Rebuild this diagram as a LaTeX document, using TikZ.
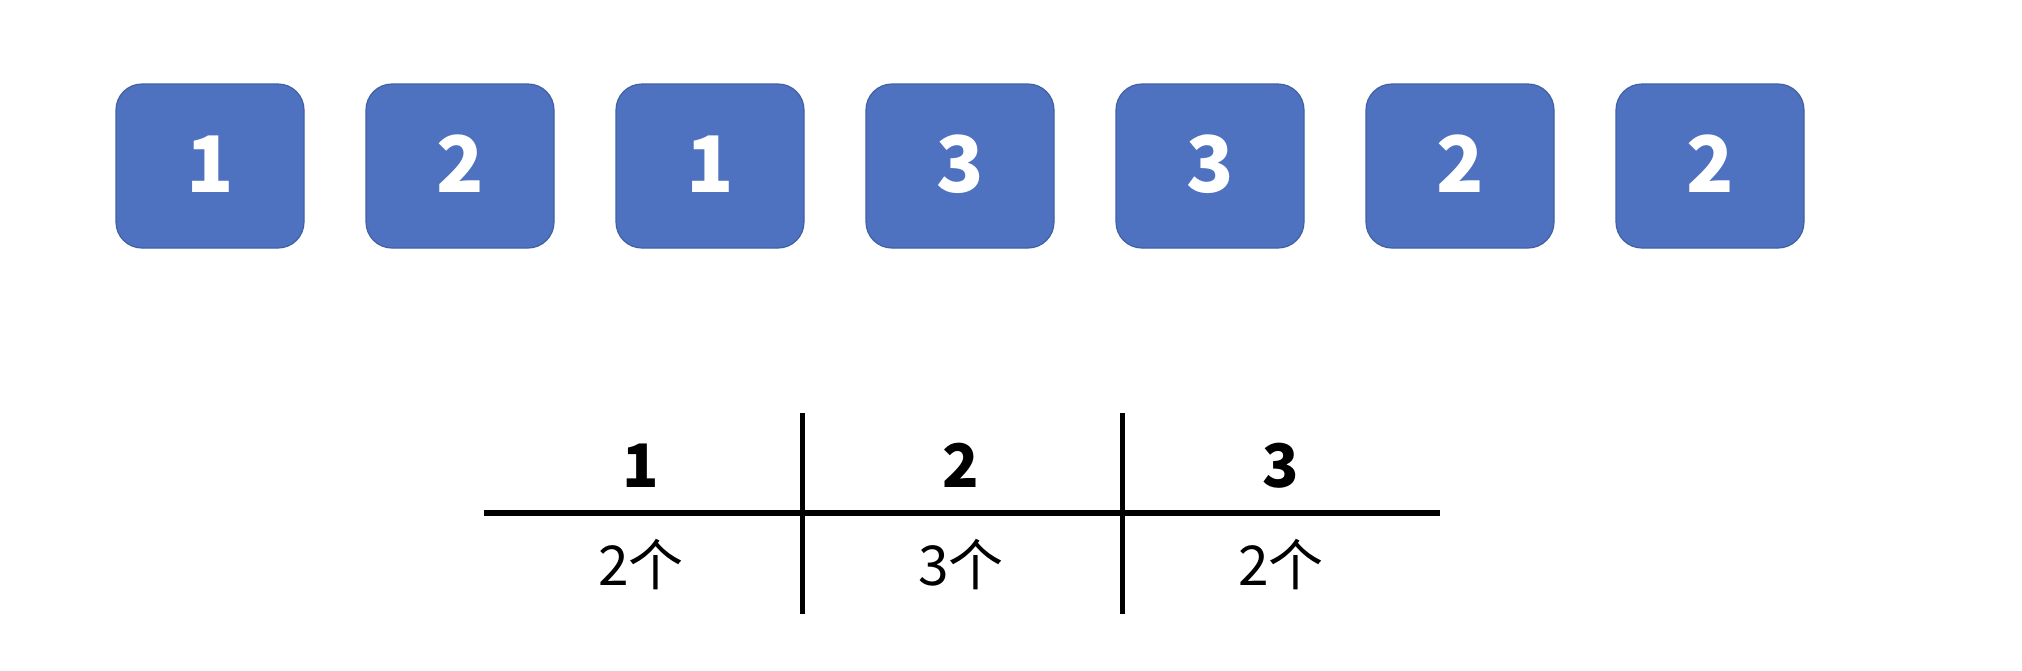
\documentclass[tikz,border=0pt]{standalone}
\usepackage{fontspec}
\setmainfont{Noto Sans CJK SC}
\definecolor{boxblue}{RGB}{78,114,192}
\definecolor{boxedge}{RGB}{64,96,166}
\begin{document}
\begin{tikzpicture}[x=1pt,y=-1pt,
  cell/.style={draw=boxedge,line width=1.2pt,fill=boxblue,rounded corners=26pt,
    minimum width=188pt,minimum height=164pt,inner sep=0pt,
    text height=52pt,text depth=0pt,
    text=white,font=\fontsize{78}{78}\selectfont\bfseries},
  head/.style={font=\fontsize{60}{60}\selectfont\bfseries,inner sep=0pt,anchor=base},
  cnt/.style={font=\fontsize{55}{55}\selectfont,inner sep=0pt,anchor=base},
  hrule/.style={line width=6pt},
  vrule/.style={line width=5pt}]
\useasboundingbox (0,0) rectangle (2022,670);
\fill[white] (0,0) rectangle (2022,670);
\node[cell] (b1) at (210,166) {1};
\node[cell] (b2) at (460,166) {2};
\node[cell] (b3) at (710,166) {1};
\node[cell] (b4) at (960,166) {3};
\node[cell] (b5) at (1210,166) {3};
\node[cell] (b6) at (1460,166) {2};
\node[cell] (b7) at (1710,166) {2};
\coordinate (hl) at (484,513);
\coordinate (hr) at (1440,513);
\coordinate (v1t) at (802,413);
\coordinate (v1b) at (802,614);
\coordinate (v2t) at (1122,413);
\coordinate (v2b) at (1122,614);
\draw[hrule] (hl) -- (hr);
\draw[vrule] (v1t) -- (v1b);
\draw[vrule] (v2t) -- (v2b);
\node[head] (h1) at (641,487) {1};
\node[head] (h2) at (961,487) {2};
\node[head] (h3) at (1281,487) {3};
\node[cnt] (c1) at (641,585) {2个};
\node[cnt] (c2) at (961,585) {3个};
\node[cnt] (c3) at (1281,585) {2个};
\end{tikzpicture}
\end{document}
